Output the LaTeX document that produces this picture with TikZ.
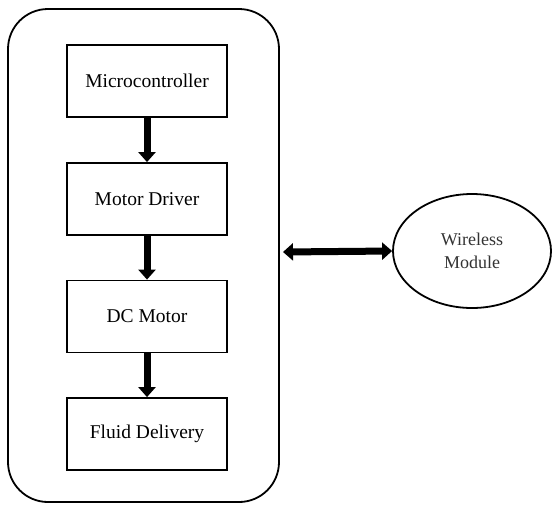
\documentclass[tikz,border=0pt]{standalone}
\usepackage{fontspec}
\setmainfont{Liberation Serif}
\usetikzlibrary{arrows.meta,shapes.geometric}
\begin{document}
\begin{tikzpicture}[x=1pt,y=-1pt,
  blockbox/.style={draw,line width=1.8pt,minimum width=160pt,minimum height=72pt,inner sep=0pt,font=\fontsize{19.5}{23}\selectfont},
  thickarrow/.style={line width=7pt,-{Triangle[width=17pt,length=10pt]}},
  dblarrow/.style={line width=7pt,{Triangle[width=17pt,length=10pt]}-{Triangle[width=17pt,length=10pt]}}]
\useasboundingbox (0,0) rectangle (553,504);
\node[draw,line width=1.8pt,rounded corners=40pt,minimum width=271pt,minimum height=493pt] (outer) at (143.5,255.5) {};
\node[blockbox] (mc) at (147,81) {Microcontroller};
\node[blockbox] (md) at (147,199) {Motor Driver};
\node[blockbox] (dc) at (147,316.5) {DC Motor};
\node[blockbox] (fd) at (147,434) {Fluid Delivery};
\node[draw,ellipse,line width=1.8pt,minimum width=158pt,minimum height=114pt,inner sep=0pt,align=center,font=\fontsize{18}{23}\selectfont,text=black!80] (wm) at (472,251) {Wireless\\Module};
\draw[thickarrow] (mc.south) -- (md.north);
\draw[thickarrow] (md.south) -- (dc.north);
\draw[thickarrow] (dc.south) -- (fd.north);
\coordinate (la) at (283,252);
\draw[dblarrow] (la) -- (wm.west);
\end{tikzpicture}
\end{document}
